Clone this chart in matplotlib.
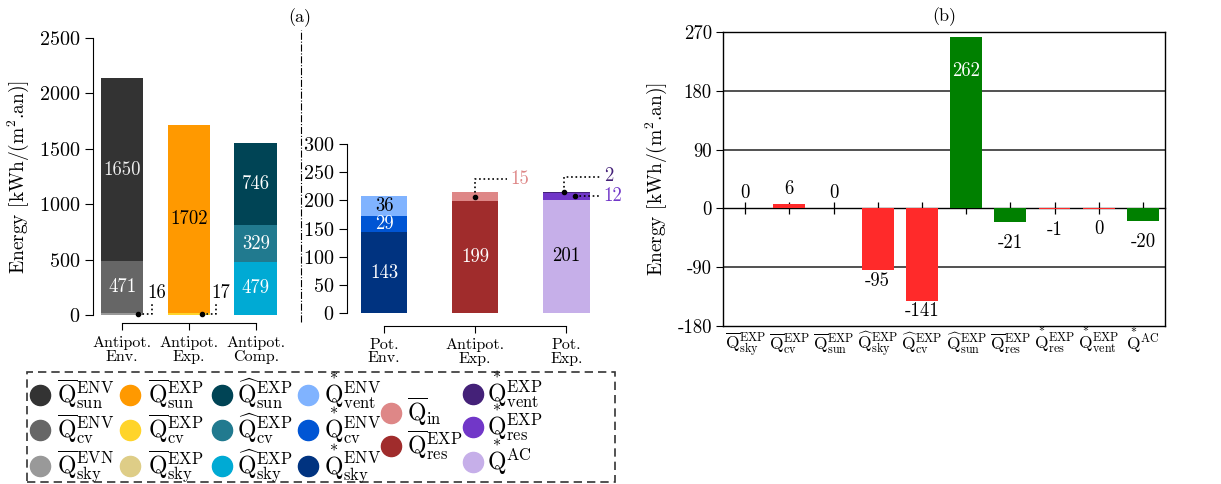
import matplotlib
matplotlib.use("Agg")
import matplotlib.pyplot as plt
from matplotlib.lines import Line2D
from matplotlib.patches import Rectangle
import numpy as np

plt.rcParams['font.family'] = 'serif'
plt.rcParams['font.serif'] = ['cmr10']
plt.rcParams['mathtext.fontset'] = 'cm'
plt.rcParams['axes.unicode_minus'] = False
plt.rcParams['axes.formatter.use_mathtext'] = True

# ---------------- data ----------------
cats_a1 = ['Antipot.\nEnv.', 'Antipot.\nExp.', 'Antipot.\nComp.']
stack_a1 = [[16, 471, 1650], [0, 17, 1702], [479, 329, 746]]
colors_a1 = [['#999999', '#666666', '#333333'],
             ['#decd87', '#ffd42a', '#ff9900'],
             ['#00aad4', '#217a8f', '#004455']]
txtcol_a1 = [[None, 'white', '#eeeeee'], [None, None, 'black'], ['white', 'white', 'white']]

cats_a2 = ['Pot.\nEnv.', 'Antipot.\nExp.', 'Pot.\nExp.']
stack_a2 = [[143, 29, 36], [199, 15], [201, 12, 2]]
colors_a2 = [['#003380', '#0055d4', '#80b3ff'],
             ['#a02c2c', '#de8787'],
             ['#c6afe9', '#7137c8', '#442178']]
txtcol_a2 = [['white', 'white', 'black'], ['white', None], ['black', None, None]]

STAR = r'\overset{*}{\mathrm{Q}}{}'
cats_b = [r'$\overline{\mathrm{Q}}^{\mathrm{EXP}}_{\mathrm{sky}}$',
          r'$\overline{\mathrm{Q}}^{\mathrm{EXP}}_{\mathrm{cv}}$',
          r'$\overline{\mathrm{Q}}^{\mathrm{EXP}}_{\mathrm{sun}}$',
          r'$\widehat{\mathrm{Q}}^{\mathrm{EXP}}_{\mathrm{sky}}$',
          r'$\widehat{\mathrm{Q}}^{\mathrm{EXP}}_{\mathrm{cv}}$',
          r'$\widehat{\mathrm{Q}}^{\mathrm{EXP}}_{\mathrm{sun}}$',
          r'$\overline{\mathrm{Q}}^{\mathrm{EXP}}_{\mathrm{res}}$',
          r'$' + STAR + r'^{\mathrm{EXP}}_{\mathrm{res}}$',
          r'$' + STAR + r'^{\mathrm{EXP}}_{\mathrm{vent}}$',
          r'$' + STAR + r'^{\mathrm{AC}}$']
vals_b = [0.3, 6, 0.3, -95, -141, 262, -21, -1, -0.3, -20]
colors_b = ['#ff2a2a', '#ff2a2a', '#ff2a2a', '#ff2a2a', '#ff2a2a',
            '#008000', '#008000', '#ff2a2a', '#ff2a2a', '#008000']

legend_cols = [
    [('#333333', r'$\overline{\mathrm{Q}}^{\mathrm{ENV}}_{\mathrm{sun}}$'),
     ('#666666', r'$\overline{\mathrm{Q}}^{\mathrm{ENV}}_{\mathrm{cv}}$'),
     ('#999999', r'$\overline{\mathrm{Q}}^{\mathrm{EVN}}_{\mathrm{sky}}$')],
    [('#ff9900', r'$\overline{\mathrm{Q}}^{\mathrm{EXP}}_{\mathrm{sun}}$'),
     ('#ffd42a', r'$\overline{\mathrm{Q}}^{\mathrm{EXP}}_{\mathrm{cv}}$'),
     ('#decd87', r'$\overline{\mathrm{Q}}^{\mathrm{EXP}}_{\mathrm{sky}}$')],
    [('#004455', r'$\widehat{\mathrm{Q}}^{\mathrm{EXP}}_{\mathrm{sun}}$'),
     ('#217a8f', r'$\widehat{\mathrm{Q}}^{\mathrm{EXP}}_{\mathrm{cv}}$'),
     ('#00aad4', r'$\widehat{\mathrm{Q}}^{\mathrm{EXP}}_{\mathrm{sky}}$')],
    [('#80b3ff', r'$' + STAR + r'^{\mathrm{ENV}}_{\mathrm{vent}}$'),
     ('#0055d4', r'$' + STAR + r'^{\mathrm{ENV}}_{\mathrm{cv}}$'),
     ('#003380', r'$' + STAR + r'^{\mathrm{ENV}}_{\mathrm{sky}}$')],
    [('#de8787', r'$\overline{\mathrm{Q}}_{\mathrm{in}}$'),
     ('#a02c2c', r'$\overline{\mathrm{Q}}^{\mathrm{EXP}}_{\mathrm{res}}$')],
    [('#442178', r'$' + STAR + r'^{\mathrm{EXP}}_{\mathrm{vent}}$'),
     ('#7137c8', r'$' + STAR + r'^{\mathrm{EXP}}_{\mathrm{res}}$'),
     ('#c6afe9', r'$' + STAR + r'^{\mathrm{AC}}$')],
]

ylabel = r'Energy [kWh/(m$^2$.an)]'

# ---------------- figure ----------------
W, H = 1221, 484
fig = plt.figure(figsize=(W / 100, H / 100), dpi=100)

def px_axes(x0, x1, y_top, y_bot):
    return fig.add_axes([x0 / W, (H - y_bot) / H, (x1 - x0) / W, (y_bot - y_top) / H])

TICK_FS = 14.5
VAL_FS = 13.5

def style_a(ax, off_left, off_bot):
    for s in ['top', 'right']:
        ax.spines[s].set_visible(False)
    ax.spines['left'].set_position(('outward', off_left))
    ax.spines['bottom'].set_position(('outward', off_bot))
    ax.tick_params(axis='y', direction='out', length=6, labelsize=TICK_FS, pad=3)
    ax.tick_params(axis='x', direction='out', length=5, labelsize=11.5, pad=4)
    for t in ax.get_xticklabels():
        t.set_linespacing(1.0)

def draw_stacks(ax, stacks, colors, txtcols, width):
    for i, (vals, cols, tcs) in enumerate(zip(stacks, colors, txtcols)):
        bottom = 0
        for v, c, tc in zip(vals, cols, tcs):
            ax.bar(i, v, width=width, bottom=bottom, color=c, linewidth=0)
            if tc is not None:
                ax.text(i, bottom + v / 2, f'{v}', ha='center', va='center',
                        color=tc, fontsize=VAL_FS)
            bottom += v

# ---- panel (a) left ----
ax1 = px_axes(100, 280, 38, 315)
draw_stacks(ax1, stack_a1, colors_a1, txtcol_a1, 0.64)
ax1.set_xlim(-0.33, 2.36)
ax1.set_ylim(0, 2500)
ax1.set_yticks(np.arange(0, 2501, 500))
ax1.set_xticks(range(3))
ax1.set_xticklabels(cats_a1)
style_a(ax1, 5, 6)
ax1.spines['bottom'].set_bounds(0, 2)
ax1.set_ylabel(ylabel, fontsize=14, labelpad=6)

# small annotations (16, 17)
for i, dx in [(0, 0.24), (1, 0.20)]:
    ymid = (stack_a1[i][0] + stack_a1[i][1] / 2) if i == 1 else stack_a1[i][0] / 2
    lab = stack_a1[i][1] if i == 1 else stack_a1[i][0]
    ax1.plot([i + dx], [ymid], 'o', color='black', ms=3, clip_on=False)
    ax1.plot([i + dx, i + dx + 0.21, i + dx + 0.21], [ymid, ymid, 115], ':',
             color='black', lw=1.2, clip_on=False)
    ax1.text(i + dx + 0.13, 120, f'{lab}', ha='left', va='bottom', fontsize=VAL_FS)

# ---- panel (a) right ----
ax2 = px_axes(355, 600, 144, 313)
draw_stacks(ax2, stack_a2, colors_a2, txtcol_a2, 0.51)
ax2.set_xlim(-0.32, 2.37)
ax2.set_ylim(0, 300)
ax2.set_yticks(np.arange(0, 301, 50))
ax2.set_xticks(range(3))
ax2.set_xticklabels(cats_a2)
style_a(ax2, 6, 9)
ax2.spines['bottom'].set_bounds(0, 2)

# annotation 15
y15 = stack_a2[1][0] + stack_a2[1][1] / 2
ax2.plot([1.0], [y15], 'o', color='black', ms=3, clip_on=False)
ax2.plot([1.0, 1.0, 1.35], [y15, 238, 238], ':', color='black', lw=1.2, clip_on=False)
ax2.text(1.39, 238, f'{stack_a2[1][1]}', color=colors_a2[1][1], ha='left', va='center',
         fontsize=VAL_FS)
# annotation 2 and 12
y2 = stack_a2[2][0] + stack_a2[2][1] + stack_a2[2][2] / 2
y12 = stack_a2[2][0] + stack_a2[2][1] / 2
ax2.plot([1.98], [y2], 'o', color='black', ms=3, clip_on=False)
ax2.plot([1.98, 1.98, 2.37], [y2, 242, 242], ':', color='black', lw=1.2, clip_on=False)
ax2.text(2.41, 244, f'{stack_a2[2][2]}', color=colors_a2[2][2], ha='left', va='center',
         fontsize=VAL_FS)
ax2.plot([2.1], [y12], 'o', color='black', ms=3, clip_on=False)
ax2.plot([2.1, 2.37], [y12, y12], ':', color='black', lw=1.2, clip_on=False)
ax2.text(2.41, y12, f'{stack_a2[2][1]}', color=colors_a2[2][1], ha='left', va='center',
         fontsize=VAL_FS)

# separator and title (a)
fig.add_artist(Line2D([301 / W, 301 / W], [(H - 322) / H, (H - 30) / H],
                      transform=fig.transFigure, color='black', lw=0.8, ls='-.'))
fig.text(300 / W, (H - 18) / H, '(a)', ha='center', va='center', fontsize=13)

# ---- legend (manual grid of entries) ----
LEG_FS = 17
col_circle_x = [40, 130, 222, 308, 391, 473]
col_text_x = [57, 148, 237, 324, 407, 487]
col_rows_y = [[395, 430, 466], [395, 430, 466], [395, 430, 466], [395, 430, 466],
              [413, 446], [394, 427, 462]]
for cx, tx, rows, entries in zip(col_circle_x, col_text_x, col_rows_y, legend_cols):
    for ry, (c, lab) in zip(rows, entries):
        fig.add_artist(Line2D([cx / W], [(H - ry) / H], marker='o', ls='', color=c,
                              ms=14.5, transform=fig.transFigure))
        fig.text(tx / W, (H - ry - 8) / H, lab, ha='left', va='baseline', fontsize=LEG_FS)
fig.add_artist(Rectangle((27 / W, 2 / H), 588 / W, 110 / H, transform=fig.transFigure,
                         fill=False, ls=(0, (5, 3)), lw=1.2, edgecolor='#333333'))

# ---- panel (b) ----
ax3 = px_axes(723, 1165, 32, 326)
xb = np.arange(len(vals_b))
ax3.bar(xb, vals_b, width=0.72, color=colors_b, linewidth=0, zorder=3)
ax3.set_xlim(-0.5, len(vals_b) - 0.5)
ax3.set_ylim(-180, 270)
ax3.set_yticks([-180, -90, 0, 90, 180, 270])
ax3.set_yticklabels(['-180', '-90', '0', '90', '180', '270'])
ax3.set_xticks(xb)
ax3.set_xticklabels(cats_b, va='baseline')
ax3.tick_params(axis='x', length=0, labelsize=12.5, pad=17)
ax3.tick_params(axis='y', direction='out', length=5, labelsize=13.5, pad=3)
for yv in [-90, 90, 180]:
    ax3.axhline(yv, color='#222222', lw=1.1, zorder=1)
for s in ax3.spines.values():
    s.set_linewidth(1.0)
sec = ax3.secondary_xaxis(180 / 450)
sec.set_xticks(xb)
sec.tick_params(axis='x', direction='inout', length=9, labelbottom=False,
                labeltop=False, width=0.9)
sec.spines['bottom'].set_linewidth(1.0)
sec.spines['top'].set_linewidth(1.0)

for x, v in zip(xb, vals_b):
    lab = f'{round(v):d}'
    if v > 200:
        ax3.annotate(lab, (x, v), xytext=(0, -24), textcoords='offset points',
                     ha='center', va='center', color='white', fontsize=VAL_FS, zorder=4)
    elif v >= 0:
        ax3.annotate(lab, (x, v), xytext=(0, 11), textcoords='offset points',
                     ha='center', va='center', color='black', fontsize=VAL_FS, zorder=4)
    elif v < -50:
        ax3.annotate(lab, (x, v), xytext=(0, -7.5), textcoords='offset points',
                     ha='center', va='center', color='black', fontsize=VAL_FS, zorder=4)
    else:
        ax3.annotate(lab, (x, v), xytext=(0, -15), textcoords='offset points',
                     ha='center', va='center', color='black', fontsize=VAL_FS, zorder=4)
ax3.set_ylabel(ylabel, fontsize=14, labelpad=6)
ax3.set_title('(b)', fontsize=13, pad=8)

fig.savefig('out.png', dpi=100)
